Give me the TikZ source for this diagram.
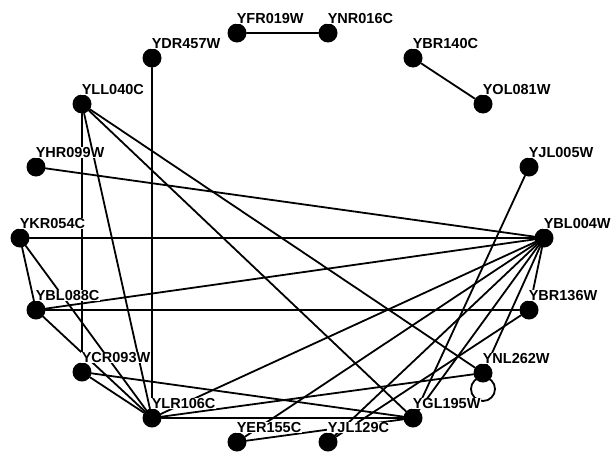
\documentclass[tikz,border=0pt]{standalone}
\usepackage{fontspec}
\setmainfont{Liberation Sans}
\usetikzlibrary{positioning, calc}
\tikzset{
    % gene (protein) vertex, a filled black dot
    dot/.style={circle, fill=black, inner sep=0pt, minimum size=19pt},
    % interaction between two genes
    link/.style={line width=1.8pt, line cap=round},
    % gene name, set over the edges on a white ground
    gene/.style={fill=white, inner sep=0.6pt, anchor=base west,
                 font=\bfseries\fontsize{14.5}{17}\selectfont},
}

\begin{document}
\begin{tikzpicture}[x=1pt, y=-1pt]
    \useasboundingbox[fill=white] (0,0) rectangle (613,453);

    % ===== vertices, round the ring =====
    \node[dot] (YFR019W) at (237, 33)  {};
    \node[dot] (YNR016C) at (328, 33)  {};
    \node[dot] (YDR457W) at (152, 58)  {};
    \node[dot] (YBR140C) at (413, 58)  {};
    \node[dot] (YLL040C) at (82, 104)  {};
    \node[dot] (YOL081W) at (483, 104) {};
    \node[dot] (YHR099W) at (36, 167)  {};
    \node[dot] (YJL005W) at (529, 167) {};
    \node[dot] (YKR054C) at (20, 238)  {};
    \node[dot] (YBL004W) at (544, 238) {};
    \node[dot] (YBL088C) at (36, 310)  {};
    \node[dot] (YBR136W) at (529, 310) {};
    \node[dot] (YCR093W) at (82, 372)  {};
    \node[dot] (YNL262W) at (483, 373) {};
    \node[dot] (YLR106C) at (152, 418) {};
    \node[dot] (YGL195W) at (413, 418) {};
    \node[dot] (YER155C) at (237, 442) {};
    \node[dot] (YJL129C) at (328, 442) {};

    % ===== interactions =====
    \draw[link] (YFR019W) -- (YNR016C);
    \draw[link] (YBR140C) -- (YOL081W);
    \draw[link] (YDR457W) -- (YLR106C);

    % from YLL040C
    \draw[link] (YLL040C) -- (YCR093W);
    \draw[link] (YLL040C) -- (YLR106C);
    \draw[link] (YLL040C) -- (YGL195W);
    \draw[link] (YLL040C) -- (YNL262W);

    % left side
    \draw[link] (YHR099W) -- (YBL004W);
    \draw[link] (YKR054C) -- (YBL004W);
    \draw[link] (YKR054C) -- (YBL088C);
    \draw[link] (YKR054C) -- (YLR106C);
    \draw[link] (YBL088C) -- (YBL004W);
    \draw[link] (YBL088C) -- (YBR136W);
    \draw[link] (YBL088C) -- (YLR106C);
    \draw[link] (YCR093W) -- (YLR106C);
    \draw[link] (YCR093W) -- (YGL195W);

    % from YLR106C
    \draw[link] (YLR106C) -- (YBL004W);
    \draw[link] (YLR106C) -- (YNL262W);
    \draw[link] (YLR106C) -- (YGL195W);

    % hub YBL004W
    \draw[link] (YBL004W) -- (YBR136W);
    \draw[link] (YBL004W) -- (YNL262W);
    \draw[link] (YBL004W) -- (YGL195W);
    \draw[link] (YBL004W) -- (YJL129C);
    \draw[link] (YBL004W) -- (YER155C);

    % bottom right
    \draw[link] (YJL005W) -- (YGL195W);
    \draw[link] (YBR136W) -- (YJL129C);
    \draw[link] (YER155C) -- (YGL195W);

    % self interaction of YNL262W
    \draw[link] ([yshift=-16pt]YNL262W.center) circle[radius=12pt];

    % ===== names =====
    \foreach \g in {YFR019W, YNR016C, YDR457W, YBR140C, YLL040C, YOL081W,
                    YHR099W, YJL005W, YKR054C, YBL004W, YBL088C, YBR136W,
                    YCR093W, YNL262W, YLR106C, YGL195W, YER155C, YJL129C}
        \node[gene] (\g-name) at ([xshift=-1pt, yshift=9.5pt]\g.center) {\g};

\end{tikzpicture}
\end{document}
